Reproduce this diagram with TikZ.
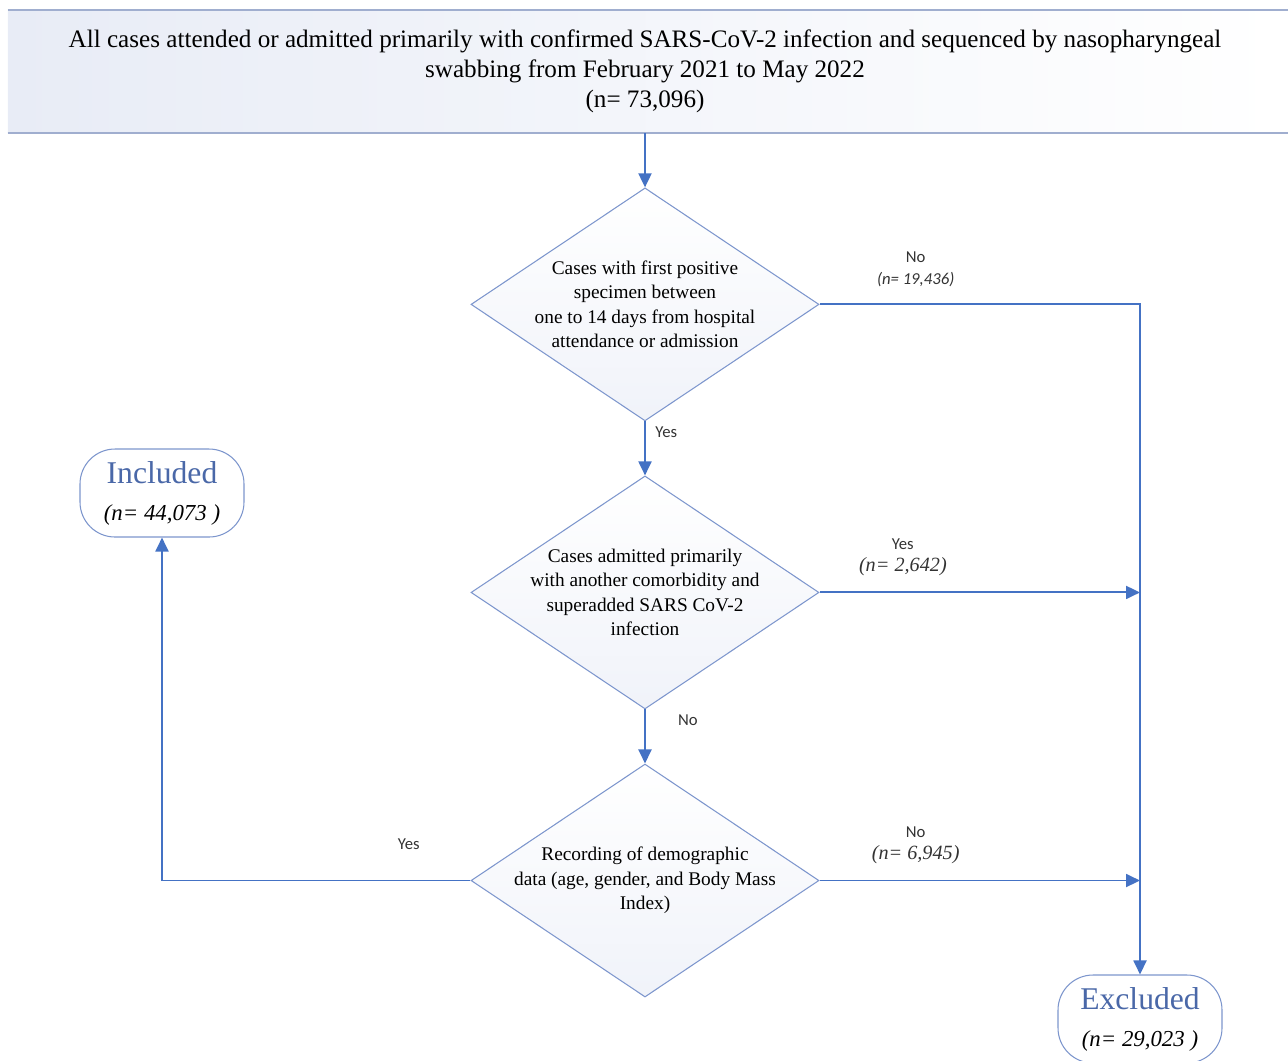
\documentclass[tikz,border=0pt]{standalone}
\usepackage{fontspec}
\setmainfont{Liberation Serif}
\newfontfamily\lblfont{Carlito}
\usetikzlibrary{arrows.meta, positioning, shapes.geometric}
\definecolor{flowblue}{RGB}{68,114,196}
\definecolor{edgeblue}{RGB}{125,150,205}
\definecolor{paleblue}{RGB}{232,236,246}
\definecolor{headblue}{RGB}{160,174,207}
\definecolor{termtext}{RGB}{74,104,168}

\begin{document}
\begin{tikzpicture}[
  x=0.2mm, y=-0.2mm,
  node distance=10.8mm and 0mm,
  header/.style={rectangle, minimum width=254.8mm, minimum height=24.6mm,
    align=center, left color=paleblue, right color=white, inner sep=0pt,
    font=\fontsize{14.3}{17}\selectfont},
  dec/.style={diamond, aspect=1.5, draw=edgeblue, line width=0.6pt,
    minimum width=69.6mm, minimum height=46.6mm, inner sep=-6pt,
    align=center, top color=white, bottom color=paleblue!65,
    font=\fontsize{11}{13.9}\selectfont},
  term/.style={rectangle, rounded corners=7mm, draw=edgeblue, line width=0.6pt,
    minimum width=32.8mm, minimum height=17.6mm, align=center, fill=white},
  arr/.style={-{Triangle[length=2.8mm, width=2.6mm]}, draw=flowblue, line width=1.1pt},
  lbl/.style={font=\lblfont\fontsize{9.5}{12.5}\selectfont, align=center, text=black!80}
]
\useasboundingbox (0,0) rectangle (1288,1060);

\node[header] (top) at (645,71.5) {All cases attended or admitted primarily with confirmed SARS-CoV-2 infection and sequenced by nasopharyngeal\\
  swabbing from February 2021 to May 2022\\ (n= 73,096)};
\draw[headblue, line width=1.2pt] (top.north west) -- ++(1290,0);
\draw[headblue, line width=1.2pt] (top.south west) -- ++(1290,0);

\node[dec, below=of top] (d1) {Cases with first positive\\ specimen between\\ one to 14 days from hospital\\ attendance or admission};
\node[dec, below=of d1] (d2) {Cases admitted primarily\\ with another comorbidity and\\ superadded SARS CoV-2\\ infection};
\node[dec, below=of d2] (d3) {Recording of demographic\\ data (age, gender, and Body Mass\\ Index)};

\node[term] (inc) at (162,493) {{\fontsize{18}{20}\selectfont\color{termtext}Included}\\[9pt]
  {\fontsize{13}{15}\selectfont\itshape (n= 44,073 )}};
\node[term] (exc) at (1140,1019) {{\fontsize{18}{20}\selectfont\color{termtext}Excluded}\\[9pt]
  {\fontsize{13}{15}\selectfont\itshape (n= 29,023 )}};

\coordinate (j2) at (d2.east -| exc.north);
\coordinate (j3) at (d3.east -| exc.north);

\draw[arr] (top.south) -- (d1.north);
\draw[arr] (d1.south) -- node[lbl, pos=0.2, right=2pt] {Yes} (d2.north);
\draw[arr] (d2.south) -- node[lbl, pos=0.2, right=15pt] {No} (d3.north);
\draw[arr] (d1.east) -| node[lbl, pos=0.15, above=2.2mm] {No\\{\itshape (n= 19,436)}} (exc.north);
\draw[arr] (d2.east) -- node[lbl, pos=0.26, above=2mm] {Yes\\{\rmfamily\itshape\fontsize{11.5}{13}\selectfont (n= 2,642)}} (j2);
\draw[arr] (d3.east) -- node[lbl, pos=0.3, above=1.9mm] {No\\{\rmfamily\itshape\fontsize{11.5}{13}\selectfont (n= 6,945)}} (j3);
\draw[arr] (d3.west) -| node[lbl, pos=0.1, above=4.8mm] {Yes} (inc.south);
\end{tikzpicture}
\end{document}
